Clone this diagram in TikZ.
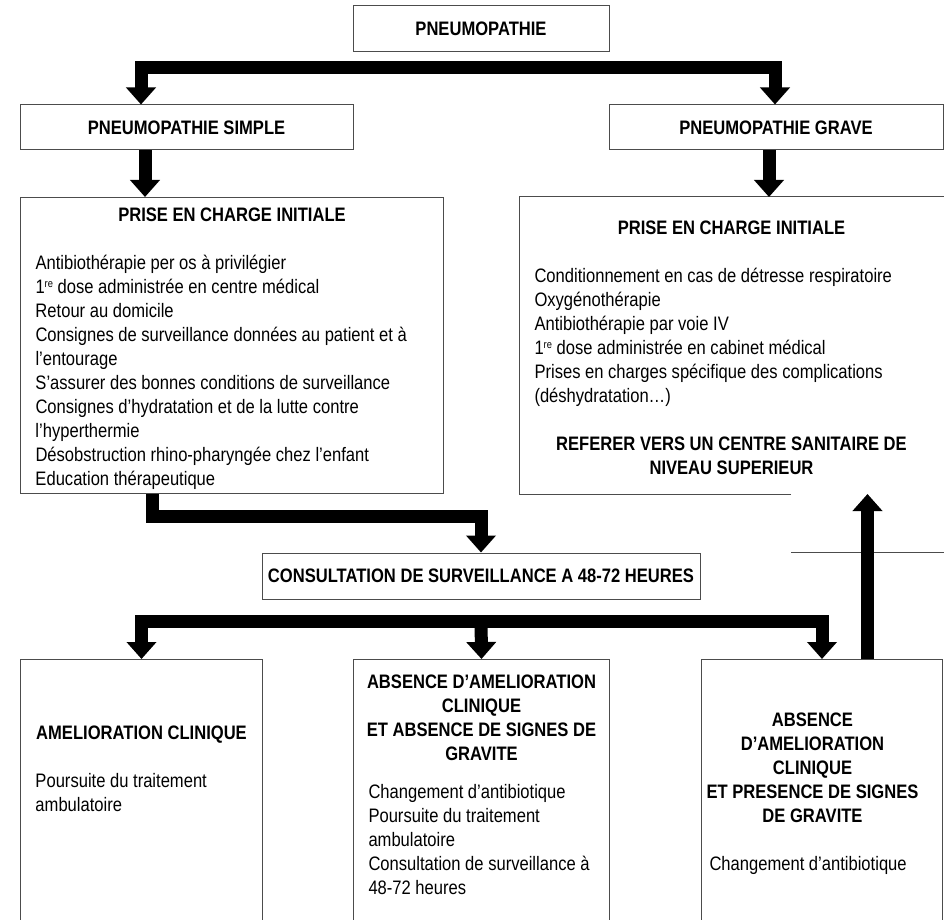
\documentclass[tikz,border=0pt]{standalone}
\usepackage{fontspec}
\setmainfont{Liberation Sans}[FakeStretch=0.85]
\usetikzlibrary{arrows.meta,calc}
\newcommand{\boxfont}{\fontsize{9.75pt}{12pt}\selectfont}
\newcommand{\supre}{\raisebox{3.2pt}{\fontsize{5.5pt}{6pt}\selectfont re}}
% box text: width, height, first baseline, content
\newcommand{\boxtext}[4]{\parbox[t][#2][t]{#1}{\boxfont\raggedright\leftskip=7.5pt\rule{0pt}{#3}#4}}
\tikzset{
  titlebox/.style={rectangle, draw=black!70, line width=0.5pt, inner sep=0pt,
                   align=center, minimum height=23pt, font=\boxfont\bfseries},
  listbox/.style={rectangle, draw=black!70, line width=0.5pt, inner sep=0pt, anchor=north west},
  boxline/.style={draw=black!70, line width=0.5pt},
  fatarr/.style={line width=6.5pt, draw=black, -{Triangle[width=14.5pt,length=8.5pt]}},
  fatboth/.style={fatarr, {Triangle[width=14.5pt,length=8.5pt]}-{Triangle[width=14.5pt,length=8.5pt]}},
}
\begin{document}
\begin{tikzpicture}[x=0.5pt, y=-0.5pt]
  \clip (0,0) rectangle (944,920);
  % first two levels
  \node[titlebox, minimum width=128pt] (patho) at (481,29) {PNEUMOPATHIE};
  \node[titlebox, minimum width=166.5pt, minimum height=22.5pt] (simple) at (186.5,127.5) {PNEUMOPATHIE SIMPLE};
  \node[titlebox, minimum width=167pt, minimum height=22.5pt] (grave) at (776,127.5) {PNEUMOPATHIE GRAVE};
  % initial care
  \node[listbox] (initS) at (20,197) {\boxtext{211.5pt}{148pt}{12pt}{%
    {\centering\bfseries PRISE EN CHARGE INITIALE\par}%
    \vspace{12pt}%
    Antibiothérapie per os à privilégier\\
    1\supre{} dose administrée en centre médical\\
    Retour au domicile\\
    Consignes de surveillance données au patient et à\\
    l’entourage\\
    S’assurer des bonnes conditions de surveillance\\
    Consignes d’hydratation et de la lutte contre\\
    l’hyperthermie\\
    Désobstruction rhino-pharyngée chez l’enfant\\
    Education thérapeutique}};
  \node[listbox, draw=none] (initG) at (519,197) {\boxtext{212pt}{148pt}{18.5pt}{%
    {\centering\bfseries PRISE EN CHARGE INITIALE\par}%
    \vspace{12pt}%
    Conditionnement en cas de détresse respiratoire\\
    Oxygénothérapie\\
    Antibiothérapie par voie IV\\
    1\supre{} dose administrée en cabinet médical\\
    Prises en charges spécifique des complications\\
    (déshydratation…)\par
    \vspace{12pt}%
    {\centering\bfseries REFERER VERS UN CENTRE SANITAIRE DE\\ NIVEAU SUPERIEUR\par}}};
  % follow-up
  \node[titlebox, minimum width=219pt] (consult) at (481,576) {CONSULTATION DE SURVEILLANCE A 48-72 HEURES};
  \node[listbox] (amelio) at (20,659) {\boxtext{121pt}{140pt}{40pt}{%
    {\centering\bfseries AMELIORATION CLINIQUE\par}%
    \vspace{12pt}%
    Poursuite du traitement\\
    ambulatoire}};
  \node[listbox] (absSans) at (353,659) {\boxtext{128pt}{140pt}{14.5pt}{%
    {\centering\bfseries ABSENCE D’AMELIORATION\\ CLINIQUE\\ ET ABSENCE DE SIGNES DE\\ GRAVITE\par}%
    \vspace{7pt}%
    Changement d’antibiotique\\
    Poursuite du traitement\\
    ambulatoire\\
    Consultation de surveillance à\\
    48-72 heures}};
  \node[listbox] (absAvec) at (701,659) {\boxtext{120.5pt}{140pt}{33.5pt}{%
    {\centering\rightskip=9.5pt plus 1fil\bfseries ABSENCE\\ D’AMELIORATION\\ CLINIQUE\\ ET PRESENCE DE SIGNES\\ DE GRAVITE\par}%
    \vspace{12pt}%
    \leftskip=4pt Changement d’antibiotique}};
  % open outline of the severe-case box
  \coordinate (gapL) at ($(initG.south west)+(272,0)$);
  \draw[boxline] (gapL) -- (initG.south west) -- (initG.north west) -- (initG.north east) -- (initG.south east);
  \draw[boxline] (gapL |- consult.north) -- (initG.east |- consult.north);
  % connectors
  \draw[fatboth] ($(simple.north)+(-45.5,0)$) |- ($(patho.south)+(0,15.5)$) -| ($(grave.north)+(-1,0)$);
  \coordinate (sDown) at ($(simple.south)+(-41.5,0)$);
  \draw[fatarr] (sDown) -- (sDown |- initS.north);
  \coordinate (gDown) at ($(grave.south)+(-7,0)$);
  \draw[fatarr] (gDown) -- (gDown |- initG.north);
  \draw[fatarr] ($(initS.south)+(-79.5,0)$) |- ($(consult.north)+(0,-36.5)$) -- (consult.north);
  \draw[fatboth] (amelio.north) |- ($(consult.south)+(0,22)$) -| (absAvec.north);
  \draw[fatarr] ($(consult.south)+(0,16)$) -- (absSans.north);
  \coordinate (upFoot) at ($(absAvec.north)+(45.5,0)$);
  \draw[fatarr] (upFoot) -- (upFoot |- initG.south);
\end{tikzpicture}
\end{document}
